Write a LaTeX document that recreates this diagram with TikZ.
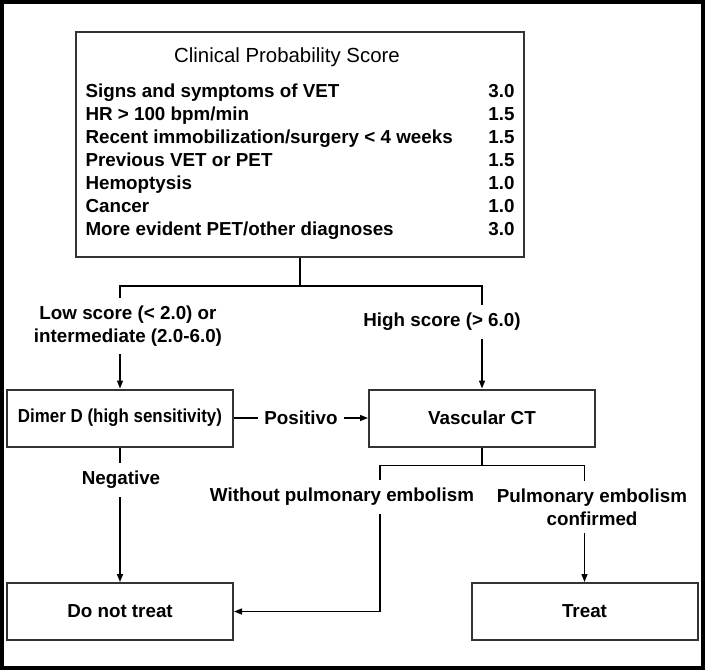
\documentclass[tikz,border=0pt]{standalone}
\usepackage{fontspec}
\setmainfont{Liberation Sans}
\usetikzlibrary{arrows.meta, calc}
\tikzset{
    block/.style={rectangle, draw=black!80, line width=1pt, fill=white, align=center, minimum width=113pt, minimum height=28.5pt, font=\bfseries\fontsize{9.4}{11.5}\selectfont},
    arrow/.style={line width=0.7pt, -{Triangle[length=4pt, width=3pt]}},
    link/.style={line width=0.7pt},
    branch/.style={fill=white, align=center, inner sep=4pt, font=\bfseries\fontsize{9.4}{11.5}\selectfont}
}

\begin{document}
\begin{tikzpicture}[x=0.5pt, y=-0.5pt]
    \useasboundingbox (0,0) rectangle (705,670);
    \draw[line width=2pt] (2,2) rectangle (703,668);

    % score table
    \node[block, minimum width=224pt, minimum height=112.5pt, inner sep=0pt] (score) at (300,144.5) {%
        \begin{tabular*}{214.5pt}{@{}l@{\extracolsep{\fill}}r@{}}
        \multicolumn{2}{c}{\mdseries\fontsize{10.2}{11.5}\selectfont\hspace*{-13pt}Clinical Probability Score}\\[6pt]
        Signs and symptoms of VET & 3.0\\
        HR > 100 bpm/min & 1.5\\
        Recent immobilization/surgery < 4 weeks & 1.5\\
        Previous VET or PET & 1.5\\
        Hemoptysis & 1.0\\
        Cancer & 1.0\\
        More evident PET/other diagnoses & 3.0
        \end{tabular*}};

    \node[block, inner xsep=2pt] (dimer) at (120,418) {\addfontfeature{FakeStretch=0.9}Dimer D (high sensitivity)};
    \node[block] (ct) at (482,418) {Vascular CT};
    \node[block] (notreat) at (120,611.5) {Do not treat};
    \node[block] (treat) at (584.5,611.5) {Treat};

    \coordinate (split) at ($(score.south)+(0,28)$);
    \coordinate (split2) at ($(ct.south)+(0,18)$);
    \coordinate (bend) at (380,611.5);

    \draw[link] (score.south) -- (split);
    \draw[arrow] (split) -| (dimer.north);
    \draw[arrow] (split) -| (ct.north);
    \draw[arrow] (dimer) -- node[branch, inner sep=3pt] (poslbl) {Positivo} (ct);
    \draw[arrow] (dimer.south) -- (notreat.north);
    \draw[link] (ct.south) -- (split2);
    \draw[arrow] (split2) -| (bend) -- (notreat.east);
    \draw[arrow] (split2) -| (treat.north);

    % branch labels
    \node[branch] (lowlbl) at (128,326) {Low score (< 2.0) or\\intermediate (2.0-6.0)};
    \node[branch] (highlbl) at (442,322) {High score (> 6.0)};
    \node[branch] (neglbl) at (121,480) {Negative};
    \node[branch] (withoutlbl) at (342,497) {Without pulmonary embolism};
    \node[branch] (pelbl) at (592,507) {Pulmonary embolism\\confirmed};
\end{tikzpicture}
\end{document}
